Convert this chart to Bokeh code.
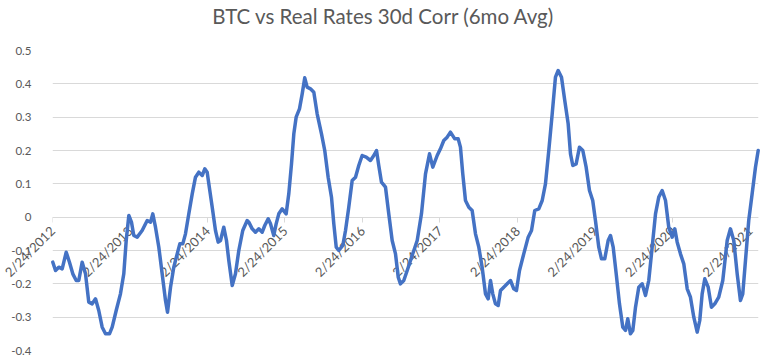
import math
from bokeh.plotting import figure
from bokeh.models import Range1d, FixedTicker, ColumnDataSource, LinearAxis
from bokeh.embed import file_html
from bokeh.resources import INLINE

# decimal year of each observation
year_frac = [
    2012.152, 2012.187, 2012.229, 2012.273, 2012.325, 2012.367, 2012.410, 2012.454, 2012.487, 2012.531,
    2012.574, 2012.616, 2012.660, 2012.703, 2012.745, 2012.789, 2012.832, 2012.883, 2012.918, 2012.970,
    2013.025, 2013.068, 2013.099, 2013.133, 2013.167, 2013.197, 2013.241, 2013.305, 2013.370, 2013.413,
    2013.442, 2013.477, 2013.520, 2013.563, 2013.606, 2013.632, 2013.671, 2013.713, 2013.757, 2013.791,
    2013.829, 2013.864, 2013.907, 2013.951, 2013.993, 2014.036, 2014.080, 2014.113, 2014.144, 2014.165,
    2014.209, 2014.251, 2014.286, 2014.316, 2014.358, 2014.393, 2014.423, 2014.467, 2014.509, 2014.552,
    2014.603, 2014.660, 2014.681, 2014.725, 2014.767, 2014.810, 2014.854, 2014.887, 2014.931, 2014.961,
    2015.003, 2015.034, 2015.068, 2015.112, 2015.163, 2015.197, 2015.232, 2015.262, 2015.292, 2015.335,
    2015.370, 2015.403, 2015.434, 2015.477, 2015.520, 2015.563, 2015.619, 2015.661, 2015.705, 2015.748,
    2015.778, 2015.809, 2015.842, 2015.894, 2015.929, 2015.971, 2016.015, 2016.058, 2016.100, 2016.144,
    2016.196, 2016.251, 2016.294, 2016.329, 2016.358, 2016.393, 2016.445, 2016.487, 2016.531, 2016.574,
    2016.609, 2016.638, 2016.681, 2016.725, 2016.789, 2016.854, 2016.909, 2016.961, 2017.013, 2017.055,
    2017.112, 2017.154, 2017.197, 2017.241, 2017.283, 2017.339, 2017.383, 2017.412, 2017.442, 2017.477,
    2017.520, 2017.563, 2017.606, 2017.649, 2017.692, 2017.735, 2017.770, 2017.800, 2017.829, 2017.864,
    2017.899, 2017.929, 2017.971, 2018.015, 2018.058, 2018.100, 2018.135, 2018.174, 2018.229, 2018.286,
    2018.329, 2018.371, 2018.423, 2018.467, 2018.509, 2018.552, 2018.596, 2018.638, 2018.673, 2018.716,
    2018.758, 2018.802, 2018.832, 2018.862, 2018.905, 2018.948, 2018.991, 2019.034, 2019.077, 2019.119,
    2019.154, 2019.197, 2019.232, 2019.274, 2019.318, 2019.348, 2019.383, 2019.422, 2019.464, 2019.507,
    2019.542, 2019.571, 2019.606, 2019.636, 2019.671, 2019.713, 2019.757, 2019.800, 2019.842, 2019.886,
    2019.929, 2019.971, 2020.015, 2020.058, 2020.100, 2020.144, 2020.178, 2020.209, 2020.251, 2020.294,
    2020.338, 2020.380, 2020.423, 2020.467, 2020.500, 2020.531, 2020.565, 2020.609, 2020.651, 2020.694,
    2020.745, 2020.797, 2020.854, 2020.896, 2020.939, 2020.983, 2021.025, 2021.055, 2021.090, 2021.132,
    2021.176, 2021.219, 2021.254,
]

# BTC vs real rates 30d correlation, 6-month average
corr = [
    -0.135, -0.160, -0.150, -0.155, -0.105, -0.135, -0.170, -0.190, -0.190, -0.135,
    -0.170, -0.255, -0.260, -0.245, -0.280, -0.330, -0.350, -0.350, -0.330, -0.280,
    -0.230, -0.170, -0.070, 0.005, -0.015, -0.055, -0.060, -0.040, -0.010, -0.015,
    0.010, -0.030, -0.090, -0.170, -0.250, -0.285, -0.210, -0.150, -0.110, -0.080,
    -0.080, -0.050, 0.010, 0.070, 0.120, 0.135, 0.125, 0.145, 0.135, 0.100,
    0.030, -0.040, -0.075, -0.070, -0.030, -0.070, -0.130, -0.205, -0.170, -0.100,
    -0.040, -0.010, -0.015, -0.035, -0.045, -0.035, -0.045, -0.025, -0.005, -0.020,
    -0.055, -0.020, 0.010, 0.025, 0.010, 0.070, 0.160, 0.250, 0.300, 0.325,
    0.370, 0.418, 0.390, 0.385, 0.375, 0.310, 0.250, 0.200, 0.120, 0.060,
    -0.020, -0.090, -0.100, -0.085, -0.040, 0.030, 0.110, 0.120, 0.155, 0.185,
    0.180, 0.170, 0.185, 0.200, 0.155, 0.105, 0.090, 0.010, -0.070, -0.110,
    -0.180, -0.200, -0.190, -0.160, -0.115, -0.070, 0.010, 0.130, 0.190, 0.150,
    0.185, 0.205, 0.230, 0.240, 0.255, 0.235, 0.235, 0.210, 0.130, 0.050,
    0.030, 0.020, -0.050, -0.090, -0.150, -0.230, -0.245, -0.190, -0.230, -0.260,
    -0.265, -0.220, -0.210, -0.200, -0.190, -0.215, -0.220, -0.160, -0.110, -0.060,
    -0.040, 0.020, 0.025, 0.050, 0.100, 0.200, 0.310, 0.420, 0.440, 0.420,
    0.350, 0.280, 0.190, 0.155, 0.160, 0.210, 0.200, 0.150, 0.080, 0.050,
    -0.010, -0.090, -0.125, -0.125, -0.070, -0.055, -0.090, -0.170, -0.260, -0.330,
    -0.340, -0.305, -0.350, -0.340, -0.270, -0.210, -0.200, -0.235, -0.190, -0.090,
    0.010, 0.060, 0.080, 0.050, -0.030, -0.060, -0.035, -0.075, -0.110, -0.140,
    -0.215, -0.240, -0.300, -0.345, -0.310, -0.230, -0.185, -0.210, -0.270, -0.260,
    -0.240, -0.190, -0.070, -0.035, -0.070, -0.170, -0.250, -0.230, -0.130, -0.010,
    0.070, 0.150, 0.200,
]

tick_years = [2012, 2013, 2014, 2015, 2016, 2017, 2018, 2019, 2020, 2021]
tick_labels = ["2/24/2012", "2/24/2013", "2/24/2014", "2/24/2015", "2/24/2016",
               "2/24/2017", "2/24/2018", "2/24/2019", "2/24/2020", "2/24/2021"]
y_ticks = [-0.4, -0.3, -0.2, -0.1, 0, 0.1, 0.2, 0.3, 0.4, 0.5]
y_labels = ["-0.4", "-0.3", "-0.2", "-0.1", "0", "0.1", "0.2", "0.3", "0.4", "0.5"]
title_text = "BTC vs Real Rates 30d Corr (6mo Avg)"

tick_pos = [round(y + 0.148, 3) for y in tick_years]
x_start, x_end = tick_pos[0], tick_pos[-1] + 0.11

GRAY = "#595959"
GRID = "#d9d9d9"
FONT = "Lato"

p = figure(width=760, height=356, output_backend="svg", toolbar_location=None,
           x_axis_location=None,
           x_range=Range1d(x_start, x_end), y_range=Range1d(-0.4, 0.5),
           min_border_left=52, min_border_right=2, min_border_bottom=6, min_border_top=49)
p.title = None
p.outline_line_color = None
p.background_fill_color = "white"

# title, drawn as the single label of an unlined axis above the frame
title_x = 2016.419
title_axis = LinearAxis(ticker=FixedTicker(ticks=[title_x]),
                        major_label_overrides={title_x: title_text})
title_axis.axis_line_color = None
title_axis.major_tick_line_color = None
title_axis.major_tick_out = 0
title_axis.major_tick_in = 0
title_axis.minor_tick_line_color = None
title_axis.major_label_standoff = 23
title_axis.major_label_text_font = FONT
title_axis.major_label_text_font_size = "20.5px"
title_axis.major_label_text_color = GRAY
p.add_layout(title_axis, "above")

src = ColumnDataSource(dict(x=year_frac, y=corr))
p.line("x", "y", source=src, line_color="#4472C4", line_width=3.5,
       line_join="round", line_cap="round", level="annotation")

# y axis
p.yaxis.ticker = FixedTicker(ticks=y_ticks)
p.yaxis.major_label_overrides = {t: l for t, l in zip(y_ticks, y_labels)}
p.yaxis.axis_line_color = None
p.yaxis.major_tick_line_color = None
p.yaxis.major_tick_out = 0
p.yaxis.major_tick_in = 0
p.yaxis.minor_tick_line_color = None
p.yaxis.major_label_text_font = FONT
p.yaxis.major_label_text_font_size = "11.5px"
p.yaxis.major_label_text_color = GRAY
p.yaxis.major_label_standoff = 21

# x tick labels: bottom axis whose labels are pulled up under the zero line
xa = LinearAxis(ticker=FixedTicker(ticks=tick_pos),
                major_label_overrides={t: l for t, l in zip(tick_pos, tick_labels)})
xa.major_label_orientation = math.pi / 4
xa.axis_line_color = None
xa.major_tick_line_color = None
xa.major_tick_out = 0
xa.major_tick_in = 0
xa.minor_tick_line_color = None
xa.major_label_text_font = FONT
xa.major_label_text_font_size = "13px"
xa.major_label_text_color = GRAY
xa.major_label_standoff = -122
p.add_layout(xa, "below")

# zero line with outward tick marks
zero_axis = LinearAxis(ticker=FixedTicker(ticks=tick_pos), fixed_location=0,
                       major_label_overrides={t: "" for t in tick_pos})
zero_axis.axis_line_color = GRID
zero_axis.major_tick_line_color = GRID
zero_axis.major_tick_in = 0
zero_axis.major_tick_out = 5
zero_axis.minor_tick_line_color = None
p.add_layout(zero_axis, "below")

p.xgrid.visible = False
p.ygrid.ticker = FixedTicker(ticks=y_ticks)
p.ygrid.grid_line_color = GRID
p.ygrid.grid_line_width = 1

open("out.html", "w").write(file_html(p, INLINE))
